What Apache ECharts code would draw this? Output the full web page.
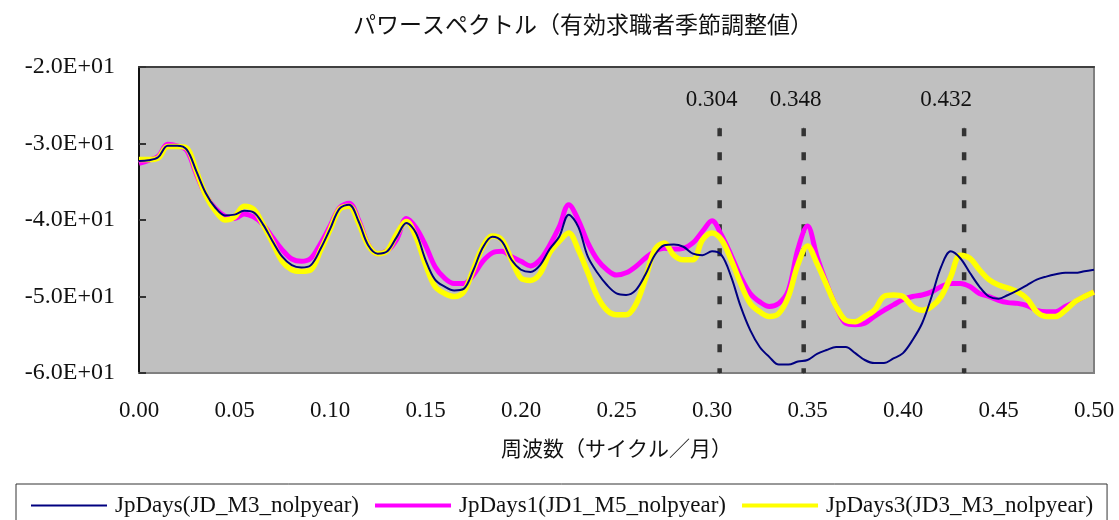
<!DOCTYPE html>
<html>
<head>
<meta charset="utf-8">
<script src="https://cdn.jsdelivr.net/npm/echarts@6/dist/echarts.min.js"></script>
<style>html,body{margin:0;padding:0;background:#fff;}#c{width:1119px;height:520px;}</style>
</head>
<body>
<div id="c"></div>
<script>
// frequency grid (cycles / month), step 0.005 from 0.00 to 0.50
const frequencies = Array.from({length: 101}, (_, i) => +(i * 0.005).toFixed(3));

const seriesNames = ['JpDays(JD_M3_nolpyear)', 'JpDays1(JD1_M5_nolpyear)', 'JpDays3(JD3_M3_nolpyear)'];

const jpDays = [
 -32.3,-32.2,-31.8,-30.3,-30.3,-30.8,-33.6,-36.5,-38.4,-39.4,
 -39.3,-38.8,-39.0,-40.6,-42.8,-44.8,-45.9,-46.2,-45.9,-43.8,
 -41.2,-38.5,-38.0,-40.2,-43.3,-44.4,-44.1,-42.2,-40.4,-41.7,
 -45.2,-47.8,-48.7,-49.2,-49.0,-46.6,-43.6,-42.2,-42.8,-45.2,
 -46.5,-46.8,-45.9,-43.8,-42.2,-39.3,-40.9,-44.8,-46.9,-48.5,
 -49.6,-49.8,-49.2,-47.2,-44.6,-43.3,-43.2,-43.5,-44.4,-44.6,
 -44.1,-44.6,-47.4,-51.3,-54.4,-56.6,-57.9,-58.9,-58.9,-58.5,
 -58.3,-57.5,-57.0,-56.6,-56.6,-57.4,-58.3,-58.7,-58.7,-58.1,
 -57.4,-55.7,-53.5,-50.0,-46.1,-44.1,-45.0,-46.9,-48.7,-50.0,
 -50.3,-49.8,-49.2,-48.5,-47.8,-47.4,-47.1,-46.9,-46.9,-46.7,
 -46.5
];

const jpDays1 = [
 -32.6,-32.2,-31.7,-30.1,-30.3,-30.9,-34.0,-36.8,-38.5,-39.5,
 -39.8,-39.2,-39.6,-40.6,-42.3,-43.9,-45.1,-45.4,-45.0,-43.1,
 -40.8,-38.4,-37.8,-40.0,-43.2,-44.4,-44.0,-42.5,-39.8,-41.0,
 -43.3,-46.1,-47.6,-48.3,-48.3,-47.2,-45.4,-44.3,-44.1,-44.8,
 -45.4,-46.0,-45.2,-43.3,-40.9,-38.0,-40.0,-43.0,-45.2,-46.5,
 -47.2,-46.9,-46.1,-45.0,-44.1,-43.7,-43.8,-43.7,-43.0,-41.5,
 -40.1,-42.0,-44.6,-47.4,-49.6,-50.7,-51.3,-50.9,-49.2,-43.8,
 -40.8,-44.8,-48.3,-51.3,-53.5,-53.7,-53.5,-52.6,-51.8,-51.1,
 -50.4,-50.0,-49.8,-49.4,-48.7,-48.3,-48.3,-48.7,-49.6,-50.0,
 -50.5,-50.8,-50.9,-51.2,-51.8,-52.0,-52.0,-51.3,-50.7,-50.0,
 -49.4
];

const jpDays3 = [
 -32.1,-32.1,-31.9,-30.4,-30.4,-30.6,-33.6,-36.8,-38.8,-40.0,
 -39.6,-38.2,-38.6,-40.6,-43.0,-45.4,-46.5,-46.7,-46.5,-44.0,
 -41.3,-38.6,-38.2,-40.4,-43.3,-44.4,-44.0,-41.8,-40.2,-42.2,
 -45.8,-48.7,-49.6,-50.0,-49.4,-46.5,-43.5,-42.1,-42.6,-45.2,
 -47.6,-47.9,-47.0,-44.3,-42.8,-41.7,-43.9,-46.9,-50.0,-51.8,
 -52.4,-52.4,-51.1,-47.8,-43.9,-43.0,-44.6,-45.2,-45.2,-42.6,
 -41.7,-42.6,-45.2,-48.3,-50.9,-52.0,-52.6,-52.2,-50.0,-45.8,
 -43.4,-45.7,-48.5,-51.3,-53.1,-53.3,-52.6,-51.8,-50.0,-49.8,
 -50.0,-51.3,-51.8,-51.3,-50.0,-47.4,-44.6,-45.0,-46.5,-47.8,
 -48.5,-48.9,-49.4,-50.3,-52.0,-52.6,-52.6,-51.8,-50.7,-50.0,
 -49.4
];

// marked peak frequencies and the vertical extent of their guide lines
const peakFreqs = [0.304, 0.348, 0.432];
const peakLineTop = -28;
const peakLineBottom = -60;

const yMin = -60, yMax = -20, yStep = 10;
const xMin = 0, xMax = 0.5, xStep = 0.05;

const titleText = 'パワースペクトル（有効求職者季節調整値）';
const xAxisName = '周波数（サイクル／月）';

// ---------- styling ----------
const serif = '"Liberation Serif", "Noto Sans CJK JP", serif';
const jp = '"Noto Sans CJK JP", sans-serif';
const labelOffsets = [-8, -8, -18];
const colors = ['#000080', '#FF00FF', '#FFFF00'];
const widths = [2, 5, 5.5];

function sci(v) {
  if (v === 0) return '0.0E+00';
  const sign = v < 0 ? '-' : '';
  const a = Math.abs(v);
  const e = Math.floor(Math.log10(a) + 1e-9);
  const m = a / Math.pow(10, e);
  return sign + m.toFixed(1) + 'E' + (e >= 0 ? '+' : '-') + String(Math.abs(e)).padStart(2, '0');
}

const pair = arr => frequencies.map((f, i) => [f, arr[i]]);

const peakSeries = peakFreqs.map((f, k) => ({
  type: 'line',
  name: 'peak' + k,
  silent: true,
  symbol: 'rect',
  symbolSize: 1,
  showSymbol: true,
  itemStyle: {color: '#333333'},
  z: 1,
  lineStyle: {color: '#333333', width: 4.5, type: [8, 16]},
  data: [
    {value: [f, peakLineTop], label: {show: true, position: 'top', distance: 16, offset: [labelOffsets[k], 0],
      formatter: () => f.toFixed(3), fontFamily: serif, fontSize: 23, color: '#111'}},
    {value: [f, peakLineBottom], label: {show: false}}
  ]
}));

const chart = echarts.init(document.getElementById('c'), null, {renderer: 'canvas'});
chart.setOption({
  animation: false,
  backgroundColor: '#ffffff',
  title: {
    text: titleText,
    left: 578, top: 8, textAlign: 'center',
    textStyle: {fontFamily: jp, fontSize: 23, fontWeight: 'normal', color: '#111'}
  },
  grid: {
    left: 139, right: 25, top: 67, bottom: 147,
    show: true, backgroundColor: '#C0C0C0', borderColor: '#808080', borderWidth: 2
  },
  legend: {
    data: seriesNames.map((n, i) => ({name: n, lineStyle: {width: Math.min(widths[i], 4), color: colors[i]}})),
    left: 16, top: 484,
    padding: [10, 14, 10, 14],
    itemWidth: 76, itemHeight: 22, itemGap: 14,
    itemStyle: {opacity: 0, borderWidth: 0},
    borderColor: '#333', borderWidth: 1,
    textStyle: {fontFamily: serif, fontSize: 23, color: '#111', padding: [0, 0, 0, 3]}
  },
  xAxis: [{
    type: 'value', min: xMin, max: xMax, interval: xStep,
    name: xAxisName, nameLocation: 'middle', nameGap: 65,
    nameTextStyle: {fontFamily: jp, fontSize: 21, color: '#111'},
    axisLine: {show: true, lineStyle: {color: '#808080', width: 2}},
    axisTick: {show: false},
    splitLine: {show: false},
    axisLabel: {formatter: v => v.toFixed(2), fontFamily: serif, fontSize: 23, color: '#111', margin: 26}
  }, {
    type: 'value', position: 'top', min: xMin, max: xMax,
    axisLine: {show: true, lineStyle: {color: '#404040', width: 2}},
    axisTick: {show: false}, axisLabel: {show: false}, splitLine: {show: false}
  }],
  yAxis: {
    type: 'value', min: yMin, max: yMax, interval: yStep,
    axisLine: {show: true, lineStyle: {color: '#111', width: 2}},
    axisTick: {show: true, inside: true, length: 7, lineStyle: {color: '#333', width: 2}},
    splitLine: {show: false},
    axisLabel: {formatter: sci, fontFamily: serif, fontSize: 24, color: '#111', margin: 24}
  },
  series: [
    ...peakSeries,
    {
      type: 'line', name: seriesNames[1], data: pair(jpDays1),
      symbol: 'none', smooth: 0.35, z: 3,
      lineStyle: {color: colors[1], width: widths[1]}, itemStyle: {color: colors[1]}
    },
    {
      type: 'line', name: seriesNames[2], data: pair(jpDays3),
      symbol: 'none', smooth: 0.35, z: 4,
      lineStyle: {color: colors[2], width: widths[2]}, itemStyle: {color: colors[2]}
    },
    {
      type: 'line', name: seriesNames[0], data: pair(jpDays),
      symbol: 'none', smooth: 0.35, z: 5,
      lineStyle: {color: colors[0], width: widths[0]}, itemStyle: {color: colors[0]}
    }
  ]
});
</script>
</body>
</html>
